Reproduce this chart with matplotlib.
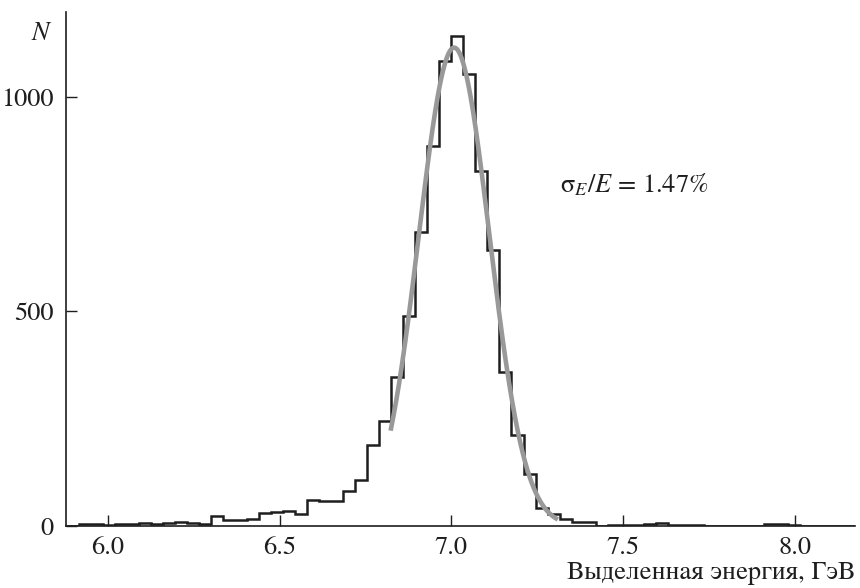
import numpy as np
import matplotlib
matplotlib.use("Agg")
import matplotlib.pyplot as plt

# histogram bin edges (GeV), width 0.035
edges = [5.880, 5.915, 5.950, 5.985, 6.020, 6.055, 6.090, 6.125, 6.160, 6.195,
         6.230, 6.265, 6.300, 6.335, 6.370, 6.405, 6.440, 6.475, 6.510, 6.545,
         6.580, 6.615, 6.650, 6.685, 6.720, 6.755, 6.790, 6.825, 6.860, 6.895,
         6.930, 6.965, 7.000, 7.035, 7.070, 7.105, 7.140, 7.175, 7.210, 7.245,
         7.280, 7.315, 7.350, 7.385, 7.420, 7.455, 7.490, 7.525, 7.560, 7.595,
         7.630, 7.665, 7.700, 7.735, 7.770, 7.805, 7.840, 7.875, 7.910, 7.945,
         7.980, 8.015, 8.050, 8.085, 8.120, 8.155, 8.190]
counts = [1, 4, 5, 2, 4, 4, 7, 4, 8, 10,
          7, 5, 23, 14, 13, 16, 30, 33, 35, 27,
          60, 59, 58, 81, 108, 189, 244, 347, 490, 685,
          886, 1083, 1142, 1054, 828, 643, 360, 212, 122, 41,
          27, 16, 9, 9, 1, 3, 2, 3, 5, 6,
          2, 2, 2, 0, 1, 1, 1, 0, 4, 4,
          2, 1, 0, 0, 1, 1]

# gaussian fit
fit_amp = 1115
fit_mean = 7.008
fit_sigma = 0.103
fit_range = (6.823, 7.31)

xticks = [6.0, 6.5, 7.0, 7.5, 8.0]
yticks = [0, 500, 1000]

plt.rcParams["font.family"] = ["STIXGeneral", "Liberation Serif", "DejaVu Serif"]
plt.rcParams["mathtext.fontset"] = "stix"

fig = plt.figure(figsize=(8.6, 5.88), dpi=100)
ax = fig.add_axes([0.0767, 0.1054, 0.9175, 0.8742])

ax.stairs(counts, edges, color="#1e1e1e", lw=1.8, baseline=None)

xf = np.linspace(fit_range[0], fit_range[1], 300)
yf = fit_amp * np.exp(-0.5 * ((xf - fit_mean) / fit_sigma) ** 2)
ax.plot(xf, yf, color="#999999", lw=3.3, solid_capstyle="butt")

ax.set_xlim(5.878, 8.175)
ax.set_ylim(0, 1198)
ax.spines["top"].set_visible(False)
ax.spines["right"].set_visible(False)
for s in ("left", "bottom"):
    ax.spines[s].set_linewidth(1.2)
    ax.spines[s].set_color("#1e1e1e")

ax.set_xticks(xticks)
ax.set_xticklabels([f"{v:.1f}" for v in xticks])
ax.set_yticks(yticks)
ax.tick_params(axis="both", direction="in", length=8, width=1.0,
               labelsize=19, colors="#1e1e1e")
ax.tick_params(axis="x", pad=7)
ax.tick_params(axis="y", pad=9)

ax.text(-0.033, 0.957, "N", transform=ax.transAxes, fontsize=19,
        style="italic", ha="center", va="center", color="#1e1e1e")
ax.text(7.315, 795, r"$\mathrm{\sigma}_{E}/E$ = 1.47%", fontsize=19,
        ha="left", va="center", color="#1e1e1e")
ax.text(1.0, -0.092, "Выделенная энергия, ГэВ", transform=ax.transAxes,
        fontsize=19, ha="right", va="center", color="#1e1e1e")

fig.savefig("out.png", dpi=100)
